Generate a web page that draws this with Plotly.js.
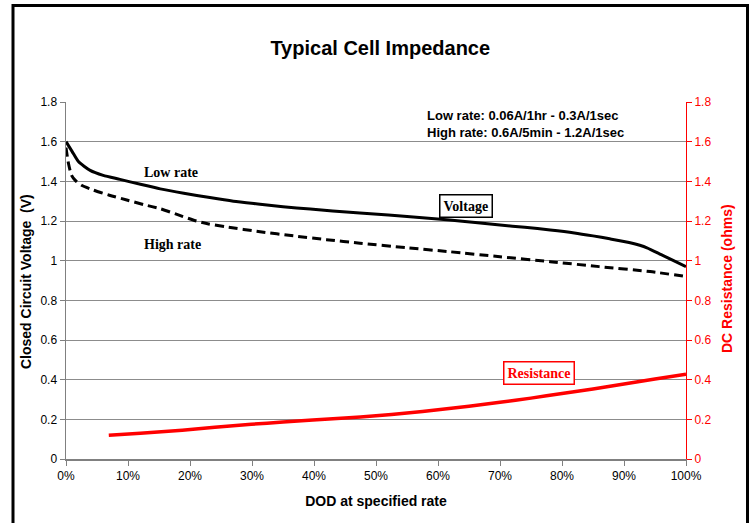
<!DOCTYPE html>
<html>
<head>
<meta charset="utf-8">
<script src="https://cdn.plot.ly/plotly-3.0.1.min.js"></script>
<style>html,body{margin:0;padding:0;background:#fff;}#chart{width:753px;height:523px;}</style>
</head>
<body>
<div id="chart"></div>
<script>
// DOD (%) and closed circuit voltage (V), low rate
var lowDod = [0, 1, 2, 3.9, 6, 8.7, 12, 15.2, 19, 23.2, 27, 31.3, 35, 39.4, 43, 47.4, 52, 56, 61.9, 66, 70, 74, 78.1, 82, 85, 87.7, 91, 93.7, 96, 98, 100];
var lowV   = [1.60, 1.55, 1.50, 1.455, 1.43, 1.41, 1.385, 1.362, 1.34, 1.318, 1.30, 1.285, 1.272, 1.26, 1.25, 1.24, 1.23, 1.22, 1.205, 1.193, 1.18, 1.168, 1.155, 1.14, 1.125, 1.11, 1.09, 1.065, 1.03, 1.0, 0.97];
// DOD (%) and closed circuit voltage (V), high rate
var highDod = [0, 0.4, 0.9, 1.5, 2.5, 4.4, 7, 9.8, 12.5, 15.2, 18, 20.5, 23, 25.9, 31.3, 36.7, 42, 47.4, 55, 61.9, 70, 78.1, 86, 94.2, 100];
var highV   = [1.57, 1.49, 1.43, 1.405, 1.38, 1.356, 1.33, 1.306, 1.283, 1.262, 1.232, 1.205, 1.185, 1.17, 1.146, 1.125, 1.106, 1.088, 1.065, 1.045, 1.02, 0.995, 0.97, 0.945, 0.92];
// DOD (%) and DC resistance (ohms)
var resDod = [6.9, 12, 18.75, 24, 29.9, 35, 39.8, 45, 50, 55, 60, 65, 70, 75, 80, 85, 90, 95, 100];
var resOhm = [0.12, 0.13, 0.145, 0.16, 0.175, 0.186, 0.197, 0.207, 0.218, 0.232, 0.248, 0.266, 0.286, 0.307, 0.33, 0.353, 0.378, 0.403, 0.428];
// axis ticks
var xTicks = [0, 10, 20, 30, 40, 50, 60, 70, 80, 90, 100];
var yTicks = [0, 0.2, 0.4, 0.6, 0.8, 1, 1.2, 1.4, 1.6, 1.8];

var sans = 'Arial, "Liberation Sans", sans-serif';
var serif = '"Times New Roman", "Liberation Serif", serif';

var traces = [
  {x: lowDod, y: lowV, mode: 'lines', line: {color: '#000', width: 3, shape: 'spline', smoothing: 0.6}, name: 'Low rate', yaxis: 'y'},
  {x: highDod, y: highV, mode: 'lines', line: {color: '#000', width: 3, dash: '9px,5px', shape: 'spline', smoothing: 0.6}, name: 'High rate', yaxis: 'y'},
  {x: resDod, y: resOhm, mode: 'lines', line: {color: '#ff0000', width: 3.5, shape: 'spline', smoothing: 0.6}, name: 'Resistance', yaxis: 'y2'}
];

var W = 620, H = 357, L = 66, T = 102;
function px(v){ return (v - L) / W; }
function py(v){ return (T + H - v) / H; }

var layout = {
  width: 753, height: 523,
  margin: {l: 66, r: 67, t: 102, b: 64},
  paper_bgcolor: '#fff', plot_bgcolor: '#fff',
  showlegend: false,
  font: {family: sans, size: 12, color: '#000'},
  title: {text: '<b>Typical Cell Impedance</b>', font: {family: sans, size: 20, color: '#000'}, x: 0.505, xanchor: 'center', y: 1 - 48/523, yanchor: 'middle'},
  xaxis: {
    range: [0, 100], tickvals: xTicks, ticktext: xTicks.map(function(v){return v + '%';}),
    showgrid: false, zeroline: false, showline: true, linecolor: '#808080', linewidth: 1.5,
    ticks: 'outside', ticklen: 5, tickcolor: '#808080', tickfont: {family: sans, size: 12, color: '#000'},
    title: {text: '<b>DOD at specified rate</b>', font: {family: sans, size: 14, color: '#000'}, standoff: 14},
    automargin: false
  },
  yaxis: {
    range: [0, 1.8], tickvals: yTicks,
    showgrid: true, gridcolor: '#8c8c8c', gridwidth: 1, zeroline: false,
    showline: true, linecolor: '#808080', linewidth: 1.5,
    ticks: 'outside', ticklen: 5, tickcolor: '#808080', tickfont: {family: sans, size: 12, color: '#000'},
    automargin: false
  },
  yaxis2: {
    range: [0, 1.8], tickvals: yTicks, overlaying: 'y', side: 'right',
    showgrid: false, zeroline: false, showline: true, linecolor: '#ff0000', linewidth: 1,
    ticks: 'outside', ticklen: 5, tickcolor: '#ff0000', tickfont: {family: sans, size: 12, color: '#ff0000'},
    automargin: false
  },
  shapes: [
    {type: 'rect', xref: 'paper', yref: 'paper', x0: px(13), x1: px(747.5), y0: py(540), y1: py(5.5), line: {color: '#000', width: 3}, fillcolor: 'rgba(0,0,0,0)', layer: 'above'}
  ],
  annotations: [
    {xref: 'paper', yref: 'paper', x: px(26), y: py(282), xanchor: 'center', yanchor: 'middle', textangle: -90, showarrow: false,
     text: '<b>Closed Circuit Voltage  (V)</b>', font: {family: sans, size: 14, color: '#000'}},
    {xref: 'paper', yref: 'paper', x: px(727), y: py(279), xanchor: 'center', yanchor: 'middle', textangle: -90, showarrow: false,
     text: '<b>DC Resistance (ohms)</b>', font: {family: sans, size: 14, color: '#ff0000'}},
    {xref: 'paper', yref: 'paper', x: px(425), y: py(106), xanchor: 'left', yanchor: 'top', align: 'left', showarrow: false,
     text: '<b>Low rate: 0.06A/1hr - 0.3A/1sec</b><br><b>High rate: 0.6A/5min - 1.2A/1sec</b>', font: {family: sans, size: 13, color: '#000'}},
    {xref: 'paper', yref: 'paper', x: px(171), y: py(172), xanchor: 'center', yanchor: 'middle', showarrow: false, text: '<b>Low rate</b>', font: {family: serif, size: 14, color: '#000'}},
    {xref: 'paper', yref: 'paper', x: px(172), y: py(244), xanchor: 'center', yanchor: 'middle', showarrow: false, text: '<b>High rate</b>', font: {family: serif, size: 14, color: '#000'}},
    {xref: 'paper', yref: 'paper', x: px(466), y: py(206), xanchor: 'center', yanchor: 'middle', showarrow: false, text: '<b>Voltage</b>', font: {family: serif, size: 14, color: '#000'},
     bordercolor: '#000', borderwidth: 1.5, borderpad: 3, bgcolor: '#fff'},
    {xref: 'paper', yref: 'paper', x: px(538.5), y: py(372.5), xanchor: 'center', yanchor: 'middle', showarrow: false, text: '<b>Resistance</b>', font: {family: serif, size: 14, color: '#ff0000'},
     bordercolor: '#ff0000', borderwidth: 1.5, borderpad: 3, bgcolor: '#fff'}
  ]
};

Plotly.newPlot('chart', traces, layout, {displayModeBar: false, staticPlot: true});
</script>
</body>
</html>
